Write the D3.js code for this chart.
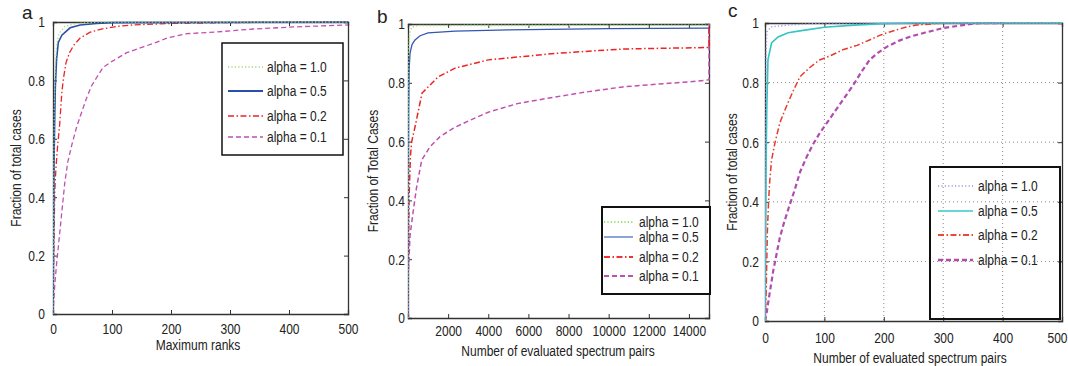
<!DOCTYPE html>
<html><head><meta charset="utf-8">
<script src="https://cdn.jsdelivr.net/npm/d3@7/dist/d3.min.js"></script>
<style>
body{margin:0;background:#fff;}
svg text{font-family:"Liberation Sans",Arial,sans-serif;fill:#222;}
</style></head><body>
<svg id="chart" width="1068" height="366"></svg>
<script>
// ---------- DATA ----------
const yTicks = [0, 0.2, 0.4, 0.6, 0.8, 1];
const yTickLabels = ["0", "0.2", "0.4", "0.6", "0.8", "1"];
const seriesNames = ["alpha = 1.0", "alpha = 0.5", "alpha = 0.2", "alpha = 0.1"];

// panel a: Maximum ranks
const aXTicks = [0, 100, 200, 300, 400, 500];
const aA10x = [0, 1, 2, 4, 6, 10, 20, 40, 80, 500];
const aA10y = [0, 0.4, 0.7, 0.85, 0.92, 0.96, 0.985, 0.995, 1, 1];
const aA05x = [0, 1, 2, 3, 4, 6, 9, 15, 29, 46, 74, 100, 500];
const aA05y = [0, 0.3, 0.55, 0.68, 0.78, 0.87, 0.93, 0.955, 0.98, 0.99, 0.995, 0.998, 1];
const aA02x = [0, 1, 2, 3, 5, 8, 11, 13, 15, 18, 22, 28, 35, 46, 63, 80, 108, 136, 200, 300, 500];
const aA02y = [0, 0.15, 0.3, 0.42, 0.5, 0.58, 0.64, 0.7, 0.76, 0.81, 0.86, 0.895, 0.92, 0.945, 0.965, 0.975, 0.985, 0.99, 0.995, 0.998, 1];
const aA01x = [0, 3, 6, 9, 12, 15, 20, 25, 32, 40, 50, 57, 65, 74, 85, 100, 125, 153, 175, 193, 227, 278, 339, 407, 500];
const aA01y = [0, 0.1, 0.17, 0.23, 0.29, 0.35, 0.45, 0.52, 0.58, 0.64, 0.7, 0.74, 0.78, 0.81, 0.845, 0.865, 0.895, 0.915, 0.93, 0.945, 0.96, 0.966, 0.976, 0.983, 0.99];

// panel b: Number of evaluated spectrum pairs (0..15000)
const bXTicks = [2000, 4000, 6000, 8000, 10000, 12000, 14000];
const bA10x = [0, 10, 30, 80, 200, 500, 15000];
const bA10y = [0, 0.5, 0.9, 0.97, 0.99, 0.995, 0.996];
const bA05x = [0, 10, 30, 60, 100, 200, 350, 600, 1000, 2350, 5000, 10000, 15000];
const bA05y = [0, 0.3, 0.7, 0.85, 0.9, 0.93, 0.946, 0.96, 0.97, 0.976, 0.98, 0.984, 0.986];
const bA02x = [0, 20, 50, 120, 185, 350, 700, 1500, 2350, 4000, 7350, 10700, 14850, 15000, 15000];
const bA02y = [0, 0.2, 0.4, 0.55, 0.6, 0.65, 0.765, 0.82, 0.85, 0.878, 0.9, 0.915, 0.92, 0.92, 1];
const bA01x = [0, 15, 100, 267, 433, 683, 1100, 1600, 2267, 3000, 4000, 5500, 7350, 9000, 10700, 12500, 14000, 15000, 15000];
const bA01y = [0, 0.15, 0.28, 0.367, 0.447, 0.537, 0.583, 0.617, 0.646, 0.67, 0.7, 0.73, 0.752, 0.77, 0.786, 0.796, 0.803, 0.81, 1];

// panel c: Number of evaluated spectrum pairs (0..500)
const cXTicks = [0, 100, 200, 300, 400, 500];
const cA10x = [0, 1, 2, 3, 10, 39, 100, 500];
const cA10y = [0, 0.6, 0.9, 0.97, 0.987, 0.993, 1, 1];
const cA05x = [0, 1, 2, 3, 5, 11, 22, 39, 67, 100, 150, 200, 250, 500];
const cA05y = [0, 0.3, 0.55, 0.71, 0.876, 0.933, 0.953, 0.967, 0.976, 0.986, 0.993, 0.998, 1, 1];
const cA02x = [0, 2, 3, 4, 6, 8, 11, 17, 25, 36, 47, 59, 75, 92, 110, 131, 155, 176, 195, 210, 235, 255, 300, 500];
const cA02y = [0, 0.1, 0.2, 0.3, 0.4, 0.47, 0.54, 0.6, 0.665, 0.72, 0.77, 0.82, 0.85, 0.876, 0.89, 0.91, 0.925, 0.943, 0.96, 0.97, 0.985, 0.993, 1, 1];
const cA01x = [0, 3, 6, 10, 14, 20, 25, 32, 40, 50, 59, 70, 80, 92, 106, 120, 134, 148, 162, 176, 190, 205, 225, 244, 270, 300, 330, 356, 400];
const cA01y = [0, 0.03, 0.07, 0.12, 0.17, 0.23, 0.28, 0.33, 0.38, 0.44, 0.5, 0.55, 0.59, 0.63, 0.67, 0.71, 0.75, 0.79, 0.835, 0.876, 0.9, 0.92, 0.94, 0.954, 0.968, 0.983, 0.992, 0.999, 1];

// ---------- DRAW ----------
const svg = d3.select("#chart");
const zip = (xs, ys) => xs.map((x, i) => [x, ys[i]]);
const SX = 0.8; // horizontal condensing of text (narrow sans look)

function condense(sel, extra) {
  sel.each(function () {
    const t = d3.select(this);
    const x = +t.attr("x") || 0, y = +t.attr("y") || 0;
    t.attr("x", 0).attr("y", 0)
     .attr("transform", `translate(${x},${y})${extra || ""} scale(${SX},1)`);
  });
}

const DOT = "1.2,2.2", DASHDOT = "6,2.5,1.5,2.5", DASH = "5,3";

const panels = [
  {id: "a", L: 53, R: 348, T: 22, B: 314, xmax: 500, xTicks: aXTicks, xLabOff: 15, yLabGap: 8,
   letter: [22, 19], xTitle: "Maximum ranks", xTitlePos: [198, 345], yTitle: "Fraction of total cases", yTitleX: 16,
   grid: false, fitLast: false,
   series: [
     {x: aA10x, y: aA10y, color: "#99dd77", dash: DOT, w: 1.3},
     {x: aA05x, y: aA05y, color: "#2a4fa8", dash: null, w: 1.6},
     {x: aA02x, y: aA02y, color: "#ee2222", dash: DASHDOT, w: 1.3},
     {x: aA01x, y: aA01y, color: "#c050b0", dash: DASH, w: 1.3}],
   legend: {x0: 222, x1: 343, y0: 43, y1: 155, rows: [67, 91, 116, 137], s0: 228, s1: 263, tx: 267, bw: 1.5,
            colors: ["#99dd77", "#2a4fa8", "#ee2222", "#c050b0"]}},
  {id: "b", L: 408, R: 709, T: 24, B: 318, xmax: 15000, xTicks: bXTicks, xLabOff: 13, yLabGap: 3,
   letter: [377, 23], xTitle: "Number of evaluated spectrum pairs", xTitlePos: [558, 351], yTitle: "Fraction of Total Cases", yTitleX: 373,
   grid: false, fitLast: false,
   series: [
     {x: bA10x, y: bA10y, color: "#99dd77", dash: DOT, w: 1.6},
     {x: bA05x, y: bA05y, color: "#3356b0", dash: null, w: 1.3},
     {x: bA02x, y: bA02y, color: "#ee2222", dash: DASHDOT, w: 1.5},
     {x: bA01x, y: bA01y, color: "#c050b0", dash: DASH, w: 1.5}],
   legend: {x0: 602, x1: 710, y0: 207, y1: 294, rows: [222, 237, 257, 276], s0: 604, s1: 633, tx: 639, bw: 2,
            colors: ["#99dd77", "#6f8fcf", "#ee3333", "#c050b0"]}},
  {id: "c", L: 765, R: 1062, T: 23, B: 321, xmax: 500, xTicks: cXTicks, xLabOff: 17, yLabGap: 6,
   letter: [728, 17], xTitle: "Number of evaluated spectrum pairs", xTitlePos: [910, 358], yTitle: "Fraction of total cases", yTitleX: 732,
   grid: true, fitLast: true,
   series: [
     {x: cA10x, y: cA10y, color: "#9a9ade", dash: DOT, w: 1.4},
     {x: cA05x, y: cA05y, color: "#33c4c4", dash: null, w: 1.6},
     {x: cA02x, y: cA02y, color: "#e83a2a", dash: DASHDOT, w: 1.5},
     {x: cA01x, y: cA01y, color: "#b04cb0", dash: DASH, w: 2.2}],
   legend: {x0: 930, x1: 1060, y0: 167, y1: 319, rows: [186, 211, 235, 260], s0: 938, s1: 973, tx: 978, bw: 2,
            colors: ["#9a9ade", "#66d6d6", "#e84a3a", "#b04cb0"]}}
];

panels.forEach(p => {
  const x = d3.scaleLinear().domain([0, p.xmax]).range([p.L, p.R]);
  const y = d3.scaleLinear().domain([0, 1]).range([p.B, p.T]);
  const g = svg.append("g");

  svg.append("clipPath").attr("id", "clip" + p.id).append("rect")
    .attr("x", p.L).attr("y", p.T - 2).attr("width", p.R - p.L + 1).attr("height", p.B - p.T + 3);

  if (p.grid) {
    const gg = g.append("g");
    gg.selectAll("line.vx").data(p.xTicks.filter(t => t > 0 && t < p.xmax)).join("line")
      .attr("x1", d => x(d)).attr("x2", d => x(d)).attr("y1", p.T).attr("y2", p.B)
      .attr("stroke", "#888").attr("stroke-width", 1).attr("stroke-dasharray", "1,3");
    gg.selectAll("line.hy").data(yTicks.filter(t => t > 0 && t < 1)).join("line")
      .attr("y1", d => y(d)).attr("y2", d => y(d)).attr("x1", p.L).attr("x2", p.R)
      .attr("stroke", "#888").attr("stroke-width", 1).attr("stroke-dasharray", "1,3");
  }

  const axB = d3.axisBottom(x).tickValues(p.xTicks).tickSize(-4).tickPadding(p.xLabOff - 4)
    .tickFormat(d3.format("d"));
  const axL = d3.axisLeft(y).tickValues(yTicks).tickSize(-4).tickPadding(p.yLabGap)
    .tickFormat((d, i) => yTickLabels[i]);
  const axT = d3.axisTop(x).tickValues(p.xTicks).tickSize(-4).tickFormat("");
  const axR = d3.axisRight(y).tickValues(yTicks).tickSize(-4).tickFormat("");

  const styleAx = sel => {
    sel.select(".domain").attr("stroke", "#333").attr("stroke-width", 1.3);
    sel.selectAll(".tick line").attr("stroke", "#333");
    sel.selectAll(".tick text").attr("font-size", 15)
      .style("font-family", "'Liberation Sans',Arial,sans-serif").attr("fill", "#222");
  };
  const gb = g.append("g").attr("transform", `translate(0,${p.B})`).call(axB).call(styleAx);
  gb.selectAll(".tick text").attr("dy", "0.32em").attr("y", p.xLabOff);
  if (p.fitLast) {
    // keep the last label inside the window (right edge)
    gb.selectAll(".tick text").filter(d => d === p.xmax)
      .attr("text-anchor", "end").attr("x", 1067 - p.R);
  }
  gb.selectAll(".tick text").call(condense);
  const gl = g.append("g").attr("transform", `translate(${p.L},0)`).call(axL).call(styleAx);
  gl.selectAll(".tick text").call(condense);
  g.append("g").attr("transform", `translate(0,${p.T})`).call(axT).call(styleAx);
  g.append("g").attr("transform", `translate(${p.R},0)`).call(axR).call(styleAx);

  const line = d3.line().x(d => x(d[0])).y(d => y(d[1]));
  const cg = g.append("g").attr("clip-path", `url(#clip${p.id})`);
  p.series.slice().reverse().forEach(s => {
    cg.append("path").datum(zip(s.x, s.y)).attr("d", line)
      .attr("fill", "none").attr("stroke", s.color).attr("stroke-width", s.w)
      .attr("stroke-dasharray", s.dash);
  });

  const lg = p.legend;
  g.append("rect").attr("x", lg.x0).attr("y", lg.y0).attr("width", lg.x1 - lg.x0).attr("height", lg.y1 - lg.y0)
    .attr("fill", p.grid ? "none" : "#fff").attr("stroke", "#111").attr("stroke-width", lg.bw);
  seriesNames.forEach((name, i) => {
    const s = p.series[i];
    g.append("line").attr("x1", lg.s0).attr("x2", lg.s1).attr("y1", lg.rows[i]).attr("y2", lg.rows[i])
      .attr("stroke", lg.colors[i]).attr("stroke-width", s.w + 0.3).attr("stroke-dasharray", s.dash);
    g.append("text").attr("x", lg.tx).attr("y", lg.rows[i]).attr("dy", "0.35em")
      .attr("font-size", 15).text(name).call(condense);
  });

  g.append("text").attr("x", p.letter[0]).attr("y", p.letter[1]).attr("font-size", 19).text(p.id);
  g.append("text").attr("x", p.xTitlePos[0]).attr("y", p.xTitlePos[1]).attr("dy", "0.35em")
    .attr("text-anchor", "middle").attr("font-size", 15).text(p.xTitle).call(condense);
  g.append("text").attr("x", p.yTitleX).attr("y", (p.T + p.B) / 2)
    .attr("dy", "0.35em").attr("text-anchor", "middle").attr("font-size", 15).text(p.yTitle)
    .call(condense, " rotate(-90)");
});
</script>
</body></html>
